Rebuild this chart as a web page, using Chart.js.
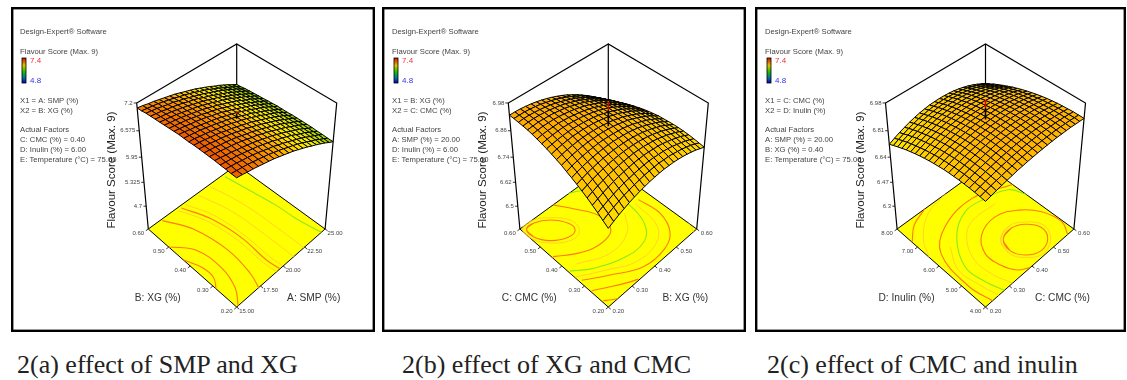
<!DOCTYPE html>
<html>
<head>
<meta charset="utf-8">
<title>Flavour score response surfaces</title>
<script src="https://cdn.jsdelivr.net/npm/chart.js@4"></script>
<style>
  html, body { margin: 0; padding: 0; background: #fff; }
  body { width: 1127px; height: 380px; position: relative; overflow: hidden; }
  canvas { position: absolute; filter: blur(0.35px); }
  .caption { position: absolute; top: 350px; font-family: "Liberation Serif", serif; font-size: 26px; color: #222; white-space: nowrap; }
</style>
</head>
<body>
<canvas id="chartA" width="364" height="325" style="left:11px;top:7px"></canvas>
<canvas id="chartB" width="364" height="325" style="left:382px;top:7px"></canvas>
<canvas id="chartC" width="371" height="325" style="left:755px;top:7px"></canvas>
<div class="caption" style="left:17px">2(a) effect of SMP and XG</div>
<div class="caption" style="left:402px">2(b) effect of XG and CMC</div>
<div class="caption" style="left:767px">2(c) effect of CMC and inulin</div>
<script>
// z; rows go along the right hand axis, columns along the left hand axis
const surfaceA = [
  [7.18,7.18,7.19,7.19,7.20,7.20,7.20,7.20,7.20,7.19,7.19,7.19,7.18,7.17,7.16,7.15,7.14,7.13,7.12,7.10,7.09],
  [7.16,7.16,7.17,7.17,7.18,7.18,7.18,7.18,7.18,7.18,7.17,7.17,7.16,7.15,7.14,7.13,7.12,7.11,7.10,7.08,7.07],
  [7.13,7.14,7.15,7.15,7.15,7.16,7.16,7.16,7.16,7.15,7.15,7.14,7.14,7.13,7.12,7.11,7.10,7.09,7.08,7.06,7.04],
  [7.11,7.12,7.12,7.13,7.13,7.13,7.13,7.13,7.13,7.13,7.13,7.12,7.11,7.11,7.10,7.09,7.08,7.06,7.05,7.04,7.02],
  [7.08,7.09,7.10,7.10,7.10,7.11,7.11,7.11,7.11,7.10,7.10,7.09,7.09,7.08,7.07,7.06,7.05,7.04,7.02,7.01,6.99],
  [7.05,7.06,7.07,7.07,7.07,7.08,7.08,7.08,7.08,7.07,7.07,7.06,7.06,7.05,7.04,7.03,7.02,7.01,7.00,6.98,6.96],
  [7.02,7.03,7.04,7.04,7.04,7.05,7.05,7.05,7.04,7.04,7.04,7.03,7.03,7.02,7.01,7.00,6.99,6.98,6.96,6.95,6.93],
  [6.99,7.00,7.00,7.01,7.01,7.01,7.01,7.01,7.01,7.01,7.00,7.00,6.99,6.98,6.98,6.97,6.95,6.94,6.93,6.91,6.90],
  [6.95,6.96,6.96,6.97,6.97,6.97,6.97,6.97,6.97,6.97,6.97,6.96,6.96,6.95,6.94,6.93,6.92,6.91,6.89,6.88,6.86],
  [6.91,6.92,6.93,6.93,6.93,6.94,6.94,6.94,6.93,6.93,6.93,6.92,6.92,6.91,6.90,6.89,6.88,6.87,6.85,6.84,6.82],
  [6.87,6.88,6.88,6.89,6.89,6.89,6.89,6.89,6.89,6.89,6.89,6.88,6.87,6.87,6.86,6.85,6.84,6.82,6.81,6.80,6.78],
  [6.83,6.83,6.84,6.84,6.85,6.85,6.85,6.85,6.85,6.85,6.84,6.84,6.83,6.82,6.81,6.80,6.79,6.78,6.77,6.75,6.74],
  [6.78,6.79,6.79,6.80,6.80,6.80,6.80,6.80,6.80,6.80,6.79,6.79,6.78,6.78,6.77,6.76,6.75,6.73,6.72,6.71,6.69],
  [6.73,6.74,6.74,6.75,6.75,6.75,6.75,6.75,6.75,6.75,6.75,6.74,6.73,6.73,6.72,6.71,6.70,6.68,6.67,6.66,6.64],
  [6.68,6.69,6.69,6.70,6.70,6.70,6.70,6.70,6.70,6.70,6.69,6.69,6.68,6.67,6.67,6.66,6.64,6.63,6.62,6.60,6.59],
  [6.62,6.63,6.64,6.64,6.64,6.65,6.65,6.65,6.65,6.64,6.64,6.63,6.63,6.62,6.61,6.60,6.59,6.58,6.57,6.55,6.53],
  [6.57,6.57,6.58,6.58,6.59,6.59,6.59,6.59,6.59,6.59,6.58,6.58,6.57,6.56,6.55,6.54,6.53,6.52,6.51,6.49,6.48],
  [6.51,6.52,6.52,6.53,6.53,6.53,6.53,6.53,6.53,6.53,6.52,6.52,6.51,6.50,6.50,6.49,6.47,6.46,6.45,6.43,6.42],
  [6.45,6.45,6.46,6.46,6.47,6.47,6.47,6.47,6.47,6.47,6.46,6.46,6.45,6.44,6.43,6.42,6.41,6.40,6.39,6.37,6.36],
  [6.38,6.39,6.40,6.40,6.40,6.41,6.41,6.41,6.40,6.40,6.40,6.39,6.39,6.38,6.37,6.36,6.35,6.34,6.32,6.31,6.29],
  [6.32,6.32,6.33,6.33,6.34,6.34,6.34,6.34,6.34,6.33,6.33,6.33,6.32,6.31,6.30,6.29,6.28,6.27,6.26,6.24,6.23]
];
const surfaceB = [
  [6.762,6.778,6.794,6.809,6.823,6.836,6.848,6.859,6.869,6.880,6.888,6.896,6.903,6.909,6.914,6.919,6.923,6.925,6.926,6.928,6.928],
  [6.774,6.790,6.804,6.819,6.833,6.845,6.856,6.867,6.877,6.886,6.894,6.902,6.907,6.913,6.918,6.922,6.925,6.927,6.928,6.928,6.928],
  [6.785,6.800,6.814,6.828,6.841,6.853,6.864,6.874,6.883,6.892,6.899,6.906,6.911,6.916,6.920,6.924,6.927,6.928,6.928,6.928,6.927],
  [6.794,6.809,6.822,6.836,6.848,6.859,6.869,6.879,6.887,6.896,6.902,6.909,6.913,6.918,6.921,6.924,6.926,6.927,6.926,6.926,6.924],
  [6.803,6.817,6.830,6.843,6.855,6.865,6.874,6.883,6.891,6.899,6.905,6.911,6.915,6.919,6.922,6.924,6.925,6.925,6.924,6.923,6.921],
  [6.810,6.823,6.836,6.848,6.859,6.869,6.878,6.886,6.893,6.901,6.906,6.911,6.915,6.918,6.920,6.922,6.923,6.922,6.920,6.919,6.916],
  [6.816,6.829,6.840,6.852,6.863,6.872,6.880,6.888,6.895,6.901,6.906,6.911,6.913,6.916,6.918,6.919,6.919,6.918,6.916,6.913,6.910],
  [6.821,6.833,6.844,6.855,6.865,6.874,6.882,6.889,6.895,6.901,6.905,6.909,6.911,6.913,6.914,6.915,6.915,6.913,6.910,6.907,6.903],
  [6.825,6.837,6.847,6.858,6.867,6.875,6.882,6.889,6.894,6.900,6.903,6.907,6.908,6.910,6.910,6.910,6.909,6.907,6.903,6.900,6.895],
  [6.828,6.839,6.849,6.859,6.868,6.875,6.881,6.887,6.892,6.897,6.900,6.903,6.904,6.905,6.905,6.904,6.902,6.899,6.895,6.891,6.886],
  [6.830,6.840,6.850,6.859,6.867,6.874,6.880,6.885,6.889,6.894,6.896,6.898,6.899,6.899,6.898,6.897,6.895,6.891,6.886,6.882,6.876],
  [6.831,6.841,6.849,6.858,6.866,6.872,6.877,6.882,6.886,6.889,6.891,6.893,6.892,6.892,6.891,6.889,6.886,6.882,6.877,6.871,6.865],
  [6.830,6.839,6.847,6.855,6.862,6.868,6.873,6.877,6.880,6.883,6.884,6.885,6.884,6.883,6.881,6.879,6.876,6.871,6.865,6.859,6.852],
  [6.829,6.838,6.845,6.853,6.859,6.864,6.868,6.872,6.874,6.877,6.877,6.878,6.876,6.875,6.872,6.869,6.865,6.860,6.853,6.847,6.839],
  [6.826,6.834,6.841,6.848,6.854,6.858,6.861,6.864,6.866,6.868,6.868,6.868,6.866,6.864,6.861,6.857,6.852,6.846,6.839,6.832,6.824],
  [6.822,6.829,6.836,6.842,6.847,6.851,6.854,6.856,6.857,6.859,6.858,6.857,6.855,6.852,6.848,6.844,6.839,6.832,6.824,6.817,6.808],
  [6.817,6.824,6.829,6.835,6.840,6.843,6.845,6.847,6.848,6.848,6.847,6.846,6.842,6.839,6.835,6.829,6.824,6.817,6.809,6.800,6.791],
  [6.811,6.817,6.822,6.827,6.831,6.834,6.836,6.837,6.837,6.837,6.835,6.833,6.829,6.825,6.820,6.815,6.809,6.801,6.792,6.783,6.773],
  [6.804,6.810,6.814,6.819,6.822,6.824,6.825,6.826,6.825,6.825,6.822,6.820,6.815,6.811,6.805,6.799,6.792,6.784,6.774,6.765,6.754],
  [6.795,6.800,6.804,6.808,6.811,6.812,6.812,6.812,6.811,6.810,6.807,6.804,6.799,6.794,6.788,6.781,6.773,6.764,6.754,6.744,6.733],
  [6.786,6.790,6.794,6.797,6.799,6.800,6.800,6.799,6.797,6.796,6.792,6.788,6.783,6.777,6.770,6.763,6.755,6.745,6.734,6.724,6.712]
];
const surfaceC = [
  [6.837,6.840,6.842,6.843,6.843,6.843,6.841,6.839,6.836,6.831,6.826,6.820,6.813,6.805,6.796,6.786,6.776,6.764,6.751,6.738,6.724],
  [6.844,6.848,6.851,6.852,6.853,6.853,6.852,6.850,6.847,6.843,6.839,6.833,6.826,6.819,6.810,6.801,6.791,6.780,6.768,6.755,6.741],
  [6.852,6.856,6.859,6.861,6.862,6.862,6.862,6.860,6.858,6.854,6.850,6.845,6.838,6.831,6.823,6.814,6.805,6.794,6.782,6.769,6.756],
  [6.858,6.863,6.866,6.869,6.870,6.871,6.870,6.869,6.867,6.864,6.860,6.855,6.849,6.842,6.835,6.826,6.816,6.806,6.795,6.783,6.769],
  [6.865,6.869,6.873,6.876,6.877,6.878,6.878,6.877,6.876,6.873,6.869,6.864,6.859,6.852,6.845,6.836,6.827,6.817,6.806,6.794,6.781],
  [6.870,6.875,6.879,6.882,6.884,6.885,6.885,6.884,6.883,6.880,6.877,6.872,6.867,6.861,6.853,6.845,6.836,6.826,6.815,6.804,6.791],
  [6.876,6.880,6.884,6.888,6.890,6.891,6.891,6.891,6.889,6.887,6.883,6.879,6.874,6.868,6.861,6.853,6.844,6.834,6.823,6.811,6.799],
  [6.880,6.885,6.889,6.892,6.894,6.896,6.896,6.896,6.894,6.892,6.889,6.884,6.879,6.873,6.866,6.858,6.850,6.840,6.829,6.818,6.805],
  [6.884,6.889,6.893,6.896,6.898,6.900,6.900,6.900,6.898,6.896,6.893,6.889,6.884,6.878,6.871,6.863,6.854,6.844,6.834,6.822,6.810],
  [6.887,6.892,6.896,6.900,6.902,6.903,6.903,6.903,6.901,6.899,6.896,6.891,6.886,6.880,6.873,6.865,6.857,6.847,6.836,6.825,6.812],
  [6.890,6.895,6.899,6.902,6.904,6.905,6.906,6.905,6.903,6.901,6.898,6.893,6.888,6.882,6.875,6.867,6.858,6.848,6.837,6.826,6.813],
  [6.892,6.897,6.901,6.904,6.906,6.907,6.907,6.906,6.904,6.902,6.898,6.894,6.888,6.882,6.875,6.867,6.857,6.848,6.837,6.825,6.812],
  [6.894,6.898,6.902,6.905,6.906,6.907,6.907,6.906,6.904,6.901,6.898,6.893,6.887,6.881,6.873,6.865,6.855,6.845,6.834,6.822,6.809],
  [6.895,6.899,6.903,6.905,6.906,6.907,6.906,6.905,6.903,6.900,6.896,6.891,6.885,6.878,6.870,6.862,6.852,6.842,6.830,6.818,6.805],
  [6.896,6.899,6.902,6.904,6.905,6.906,6.905,6.903,6.901,6.897,6.893,6.887,6.881,6.874,6.866,6.857,6.847,6.836,6.824,6.812,6.798],
  [6.895,6.899,6.901,6.903,6.904,6.904,6.902,6.900,6.897,6.893,6.889,6.883,6.876,6.869,6.860,6.851,6.840,6.829,6.817,6.804,6.790],
  [6.895,6.898,6.900,6.901,6.901,6.901,6.899,6.897,6.893,6.889,6.883,6.877,6.870,6.862,6.853,6.843,6.832,6.821,6.808,6.794,6.780],
  [6.894,6.896,6.898,6.898,6.898,6.897,6.894,6.891,6.888,6.883,6.877,6.870,6.862,6.854,6.844,6.834,6.822,6.810,6.797,6.783,6.768],
  [6.892,6.894,6.895,6.895,6.894,6.892,6.889,6.886,6.881,6.875,6.869,6.862,6.854,6.844,6.834,6.823,6.811,6.798,6.785,6.770,6.754],
  [6.889,6.891,6.891,6.890,6.889,6.886,6.883,6.879,6.873,6.867,6.860,6.852,6.843,6.833,6.823,6.811,6.798,6.785,6.770,6.755,6.739],
  [6.887,6.887,6.887,6.885,6.883,6.880,6.876,6.871,6.865,6.858,6.850,6.841,6.832,6.821,6.810,6.797,6.784,6.770,6.755,6.738,6.722]
];

const zTicksA = [4.7, 5.325, 5.95, 6.575, 7.2];
const zTicksB = [6.5, 6.62, 6.74, 6.86, 6.98];
const zTicksC = [6.3, 6.47, 6.64, 6.81, 6.98];

const rightTicksA = ['15.00', '17.50', '20.00', '22.50', '25.00'];
const leftTicksA = ['0.20', '0.30', '0.40', '0.50', '0.60'];
const rightTicksB = ['0.20', '0.30', '0.40', '0.50', '0.60'];
const leftTicksB = ['0.20', '0.30', '0.40', '0.50', '0.60'];
const rightTicksC = ['0.20', '0.30', '0.40', '0.50', '0.60'];
const leftTicksC = ['4.00', '5.00', '6.00', '7.00', '8.00'];

const infoA = ['X1 = A: SMP (%)', 'X2 = B: XG (%)', 'Actual Factors', 'C: CMC (%) = 0.40', 'D: Inulin (%) = 6.00', 'E: Temperature (°C) = 75.00'];
const infoB = ['X1 = B: XG (%)', 'X2 = C: CMC (%)', 'Actual Factors', 'A: SMP (%) = 20.00', 'D: Inulin (%) = 6.00', 'E: Temperature (°C) = 75.00'];
const infoC = ['X1 = C: CMC (%)', 'X2 = D: Inulin (%)', 'Actual Factors', 'A: SMP (%) = 20.00', 'B: XG (%) = 0.40', 'E: Temperature (°C) = 75.00'];

// contour lines on the floor, in coded units [right axis, left axis]
const contoursA = [
  [[-1,.16],[-.89,-.15],[-.89,-.40],[-1,-.57]],
  [[-1,.5],[-.74,.16],[-.687,-.373],[-.79,-.76],[-.97,-1]],
  [[-.73,.97],[-.49,.48],[-.387,-.208],[-.45,-.74],[-.54,-1]],
  [[-.41,.95],[-.226,.452],[-.145,-.185],[-.168,-.742],[-.145,-1]],
  [[-.336,.95],[-.15,.45],[-.068,-.18],[-.1,-.75],[-.07,-1]],
  [[-.243,.957],[-.066,.466],[-.002,-.19],[-.02,-.745],[0,-1]],
  [[.05,.95],[.2,.313],[.24,-.43],[.243,-1]],
  [[.32,.96],[.44,.32],[.477,-.39],[.48,-1]],
  [[.66,.94],[.73,.447],[.806,-.09],[.83,-.51],[.88,-.85],[.91,-1]]
];
const contourKindsA = ['strong', 'strong', 'strong', 'pale', 'strong', 'pale', 'pale', 'pale', 'green'];

const contoursB = [
  [[-.93,.92],[-.773,.937],[-.538,.798],[-.374,.538],[-.39,.36],[-.564,.331],[-.81,.485],[-.947,.731],[-.93,.92]],
  [[-.973,.963],[-.758,.995],[-.507,.833],[-.30,.538],[-.35,.30],[-.562,.254],[-.842,.452],[-.99,.72],[-.973,.963]],
  [[-.29,1],[-.08,.65],[.078,.332],[.053,.013],[-.108,-.108],[-.432,-.102],[-.727,.037],[-.955,.205],[-1,.22]],
  [[.054,1],[.245,.905],[.55,.51],[.593,.047],[.475,-.36],[.22,-.575],[-.234,-.56],[-.69,-.37],[-.975,-.155]],
  [[.42,.04],[.15,-.27],[-.32,-.35],[-.82,-.13]],
  [[.688,.062],[.608,-.493],[.329,-.729],[-.133,-.748],[-.567,-.533],[-.993,-.287]],
  [[.789,.081],[.828,-.368],[.657,-.733],[.358,-.892],[-.134,-.886],[-.597,-.633],[-.96,-.4]],
  [[-.98,-.634],[-.742,-.778],[-.495,-.916],[-.348,-.983]],
  [[-.977,-.874],[-.88,-.95],[-.80,-1]],
  [[1,-.84],[.96,-.93],[.92,-1]]
];
const contourKindsB = ['strong', 'pale', 'strong', 'green', 'pale', 'pale', 'strong', 'strong', 'strong', 'pale'];

const contoursC = [
  [[.058,-.338],[.30,-.28],[.518,-.382],[.654,-.604],[.565,-.825],[.307,-.91],[.075,-.787],[-.03,-.567],[.058,-.338]],
  [[.03,-.31],[.31,-.224],[.55,-.35],[.716,-.6],[.6,-.858],[.3,-.968],[.04,-.82],[-.075,-.575],[.03,-.31]],
  [[.846,-1],[.976,-.766],[.9,-.4],[.656,-.106],[.285,.065],[-.127,-.04],[-.34,-.33],[-.33,-.64],[-.216,-.884],[-.04,-1]],
  [[.486,.26],[-.01,.27],[-.295,.127],[-.53,-.26],[-.534,-.666],[-.43,-1]],
  [[1,.03],[.863,.317],[.444,.456],[.0125,.487],[-.43,.214],[-.73,-.29],[-.70,-.69],[-.604,-1]],
  [[-.637,.147],[-.84,-.26],[-.79,-.71],[-.725,-1]],
  [[1,.35],[.287,.613],[-.427,.492],[-.822,.152],[-.93,-.57],[-.855,-1]],
  [[.05,1],[-.43,.89],[-.825,.565],[-1,.23]],
  [[-.41,1],[-.75,.87],[-1,.63]]
];
const contourKindsC = ['strong', 'pale', 'strong', 'pale', 'green', 'pale', 'strong', 'pale', 'strong'];

// the centre point stem: surface height up to the design point height
const stemA = [6.85, 6.97, 7.02];
const stemB = [6.88, 6.95, 6.985];
const stemC = [6.88, 6.95, 7.0];

const contourColors = { strong: '#ff7a10', pale: '#ffc63a', green: '#8fe620' };
const surfaceStops = [[6.15,[80,176,0]], [6.6,[240,235,0]], [6.76,[255,226,0]], [6.92,[255,172,0]], [7.15,[240,106,0]], [7.4,[224,0,0]]];

const camera = { A: 44.2, B: 35.2, C: 111.4, k: 0.049, m: 0.116 };

const panels = [
  { id: 'chartA', left: 11, width: 364, cx: 236.7, infoX: 20, surface: surfaceA, zTicks: zTicksA, rightTicks: rightTicksA, leftTicks: leftTicksA,
    info: infoA, contours: contoursA, kinds: contourKindsA, stem: stemA, rightName: 'A: SMP (%)', leftName: 'B: XG (%)' },
  { id: 'chartB', left: 382, width: 364, cx: 608.3, infoX: 392, surface: surfaceB, zTicks: zTicksB, rightTicks: rightTicksB, leftTicks: leftTicksB,
    info: infoB, contours: contoursB, kinds: contourKindsB, stem: stemB, rightName: 'B: XG (%)', leftName: 'C: CMC (%)' },
  { id: 'chartC', left: 755, width: 371, cx: 985.5, infoX: 765, surface: surfaceC, zTicks: zTicksC, rightTicks: rightTicksC, leftTicks: leftTicksC,
    info: infoC, contours: contoursC, kinds: contourKindsC, stem: stemC, rightName: 'C: CMC (%)', leftName: 'D: Inulin (%)' }
];

function surfaceColor(z) {
  const s = surfaceStops;
  if (z <= s[0][0]) return `rgb(${s[0][1].join(',')})`;
  for (let i = 1; i < s.length; i++) {
    if (z <= s[i][0]) {
      const t = (z - s[i - 1][0]) / (s[i][0] - s[i - 1][0]);
      const c = s[i][1].map((v, k) => Math.round(s[i - 1][1][k] + (v - s[i - 1][1][k]) * t));
      return `rgb(${c.join(',')})`;
    }
  }
  return `rgb(${s[s.length - 1][1].join(',')})`;
}

function makeProjector(p) {
  const step = p.zTicks[1] - p.zTicks[0];
  const zFloor = p.zTicks[0] - step;
  const zTop = p.zTicks[p.zTicks.length - 1];
  return function (u, v, z) {
    const f = z === null ? 0 : (z - zFloor) / (zTop - zFloor);
    const a = u - v, b = u + v, w = 1 + camera.k * b - camera.m * f;
    return { x: p.cx + camera.A * a / w, y: 229 - (camera.B * b + camera.C * f) / w };
  };
}

function lineSet(data, color, width, extra) {
  return Object.assign({ data: data, showLine: true, borderColor: color, borderWidth: width, pointRadius: 0, tension: 0, fill: false, clip: false }, extra || {});
}

function buildDatasets(p) {
  const at = makeProjector(p);
  const top = p.zTicks[p.zTicks.length - 1];
  const sets = [];

  // floor
  sets.push(lineSet([at(-1,-1,null), at(1,-1,null), at(1,1,null), at(-1,1,null), at(-1,-1,null)], '#000', 1, { fill: 'shape', backgroundColor: '#ffff00' }));
  p.contours.forEach((c, i) => {
    // rings go round once more past the join so the curve has no corner there
    const first = c[0], last = c[c.length - 1];
    const ring = first[0] === last[0] && first[1] === last[1];
    const pts = ring ? [c[c.length - 2], ...c, c[1]] : c;
    sets.push(lineSet(pts.map(q => at(q[0], q[1], null)), contourColors[p.kinds[i]], p.kinds[i] === 'pale' ? 0.8 : 1.1, { tension: 0.4 }));
  });

  // box behind the surface
  sets.push(lineSet([at(-1,1,null), at(-1,1,top), at(1,1,top), at(1,-1,top), at(1,-1,null)], '#000', 1.2));
  sets.push(lineSet([at(1,1,null), at(1,1,top)], '#000', 1.2));

  // tick marks
  for (let i = 0; i < 5; i++) {
    const t = -1 + i / 2;
    sets.push(lineSet([at(t,-1,null), at(t,-1.05,null)], '#000', 0.8));
    sets.push(lineSet([at(-1,t,null), at(-1.05,t,null)], '#000', 0.8));
    sets.push(lineSet([at(-1,1,p.zTicks[i]), at(-1.03,1.03,p.zTicks[i])], '#000', 0.8));
  }

  // surface, back corner first
  const n = p.surface.length;
  const pos = i => -1 + 2 * i / (n - 1);
  for (let i = n - 2; i >= 0; i--) {
    for (let j = n - 2; j >= 0; j--) {
      const z = [p.surface[i][j], p.surface[i + 1][j], p.surface[i + 1][j + 1], p.surface[i][j + 1]];
      const mean = (z[0] + z[1] + z[2] + z[3]) / 4;
      sets.push(lineSet([at(pos(i), pos(j), z[0]), at(pos(i + 1), pos(j), z[1]), at(pos(i + 1), pos(j + 1), z[2]), at(pos(i), pos(j + 1), z[3]), at(pos(i), pos(j), z[0])],
        '#000', 1, { fill: 'shape', backgroundColor: surfaceColor(mean) }));
    }
  }

  // centre point stem
  sets.push(lineSet([at(0,0,p.stem[0]), at(0,0,p.stem[1])], '#000', 1.6));
  sets.push(lineSet([at(0,0,p.stem[1]), at(0,0,p.stem[2])], '#e00000', 1.6));

  return sets.reverse(); // Chart.js paints the last dataset first
}

const panelText = {
  id: 'panelText',
  afterDatasetsDraw(chart, args, opts) {
    const p = opts.panel;
    const ctx = chart.ctx;
    const X = v => chart.scales.x.getPixelForValue(v);
    const Y = v => chart.scales.y.getPixelForValue(v);
    const at = makeProjector(p);
    const label = (txt, x, y, color, font, align) => {
      ctx.fillStyle = color;
      ctx.font = font;
      ctx.textAlign = align || 'left';
      ctx.textBaseline = 'middle';
      ctx.fillText(txt, X(x), Y(y));
    };
    const small = '7.7px "Liberation Sans"';
    const tick = '6px "Liberation Sans"';
    const big = '10.2px "Liberation Sans"';

    ctx.save();
    label('Design-Expert® Software', p.infoX, 32, '#444', small);
    label('Flavour Score (Max. 9)', p.infoX, 52, '#444', small);
    label('7.4', p.infoX + 10, 61, '#f03030', '8px "Liberation Sans"');
    label('4.8', p.infoX + 10, 81, '#3030f0', '8px "Liberation Sans"');

    // colour key
    const g = ctx.createLinearGradient(0, Y(58), 0, Y(83));
    g.addColorStop(0, '#d01000'); g.addColorStop(0.3, '#e0c000'); g.addColorStop(0.55, '#20c000'); g.addColorStop(0.8, '#0070a0'); g.addColorStop(1, '#0000c0');
    ctx.fillStyle = g;
    ctx.fillRect(X(p.infoX + 2), Y(58), 4, 25);
    ctx.strokeStyle = '#000';
    ctx.lineWidth = 0.8;
    ctx.strokeRect(X(p.infoX + 2), Y(58), 4, 25);

    const infoY = [101, 110.5, 130, 139.5, 150, 160];
    p.info.forEach((t, i) => label(t, p.infoX, infoY[i], '#444', small));

    // z axis labels on the left upright
    p.zTicks.forEach(z => {
      const q = at(-1, 1, z);
      label(String(z), q.x - 4, q.y, '#444', tick, 'right');
    });
    // floor axis labels
    p.rightTicks.forEach((t, i) => {
      const q = at(-1 + i / 2, -1, null);
      label(t, q.x + 10, q.y + 4, '#444', tick, 'center');
    });
    p.leftTicks.forEach((t, i) => {
      const q = at(-1, -1 + i / 2, null);
      label(t, q.x - 10, q.y + 4, '#444', tick, 'center');
    });
    label(p.rightName, p.cx + 77, 298, '#333', big, 'center');
    label(p.leftName, p.cx - 79, 298, '#333', big, 'center');

    // rotated z title
    ctx.translate(X(p.cx - 125), Y(170));
    ctx.rotate(-Math.PI / 2);
    ctx.fillStyle = '#222';
    ctx.font = '11.5px "Liberation Sans"';
    ctx.textAlign = 'center';
    ctx.textBaseline = 'middle';
    ctx.fillText('Flavour Score (Max. 9)', 0, 0);
    ctx.restore();

    // frame
    ctx.save();
    ctx.strokeStyle = '#000';
    ctx.lineWidth = 2.4;
    ctx.strokeRect(1.2, 1.2, chart.width - 2.4, chart.height - 2.4);
    ctx.restore();
  }
};

panels.forEach(p => {
  new Chart(document.getElementById(p.id), {
    type: 'scatter',
    data: { datasets: buildDatasets(p) },
    options: {
      responsive: false,
      animation: false,
      events: [],
      layout: { padding: 0 },
      scales: {
        x: { type: 'linear', display: false, min: p.left, max: p.left + p.width },
        y: { type: 'linear', display: false, reverse: true, min: 7, max: 332 }
      },
      plugins: { legend: { display: false }, tooltip: { enabled: false }, panelText: { panel: p } }
    },
    plugins: [panelText]
  });
});
</script>
</body>
</html>
